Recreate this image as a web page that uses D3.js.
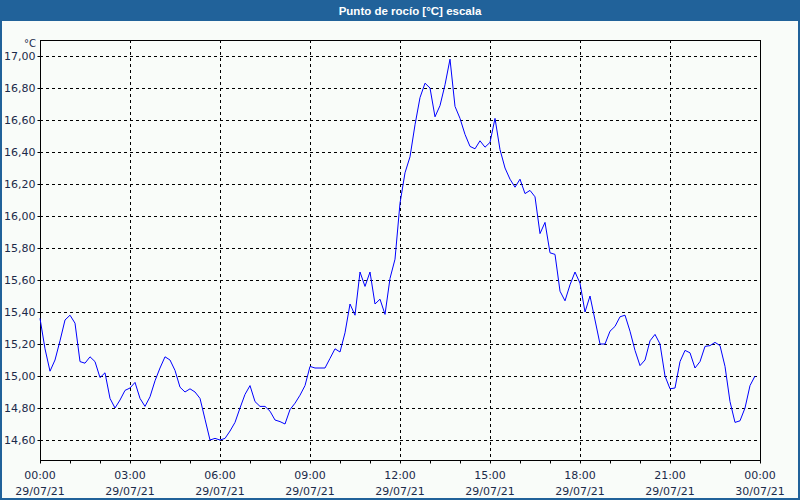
<!DOCTYPE html>
<html><head><meta charset="utf-8">
<script src="https://cdn.jsdelivr.net/npm/d3@7"></script>
<style>
html,body{margin:0;padding:0;background:#f9fcf9;}
svg{display:block;}
</style></head>
<body>
<svg id="chart" width="800" height="500"></svg>
<script>
const chartTitle = "Punto de rocío [°C] escala";
const unitLabel = "°C";
const startTime = "2021-07-29T00:00:00";
const endTime = "2021-07-30T00:00:00";
const stepMinutes = 10;
const dewPoint = [
 15.36,15.17,15.03,15.10,15.22,15.35,15.38,15.33,15.09,15.08,
 15.12,15.09,14.99,15.02,14.86,14.80,14.85,14.91,14.925,14.96,
 14.86,14.81,14.87,14.97,15.05,15.12,15.10,15.035,14.93,14.90,
 14.92,14.90,14.86,14.73,14.60,14.61,14.60,14.61,14.656,14.71,
 14.80,14.885,14.94,14.84,14.81,14.81,14.78,14.725,14.715,14.70,
 14.79,14.83,14.88,14.94,15.06,15.05,15.05,15.05,15.11,15.17,
 15.15,15.27,15.45,15.38,15.65,15.56,15.65,15.45,15.48,15.385,
 15.61,15.73,16.08,16.27,16.37,16.57,16.74,16.83,16.80,16.62,
 16.69,16.82,16.98,16.685,16.61,16.51,16.435,16.42,16.47,16.43,
 16.46,16.61,16.415,16.30,16.23,16.18,16.23,16.14,16.16,16.12,
 15.89,15.96,15.77,15.76,15.53,15.47,15.57,15.65,15.58,15.40,
 15.50,15.35,15.20,15.20,15.28,15.31,15.37,15.38,15.28,15.16,
 15.065,15.10,15.22,15.26,15.20,15.00,14.92,14.925,15.09,15.16,
 15.145,15.05,15.09,15.185,15.19,15.21,15.19,15.06,14.84,14.71,
 14.72,14.80,14.94,15.00
];
const yTicks = [14.6,14.8,15.0,15.2,15.4,15.6,15.8,16.0,16.2,16.4,16.6,16.8,17.0];
const yDomain = [14.475, 17.1];
const xMajorHours = [0,3,6,9,12,15,18,21,24];

const svg = d3.select("#chart");
const W = 800, H = 500;
const m = {left:40, right:760, top:40, bottom:460};
const parse = d3.isoParse;
const t0 = parse(startTime), t1 = parse(endTime);
const x = d3.scaleTime().domain([t0,t1]).range([m.left,m.right]);
const y = d3.scaleLinear().domain(yDomain).range([m.bottom,m.top]);
const loc = d3.formatLocale({decimal:",",thousands:".",grouping:[3],currency:["","€"]});
const fmt = loc.format(".2f");
const timeFmt = d3.timeFormat("%H:%M"), dateFmt = d3.timeFormat("%d/%m/%y");
const font = "Tahoma, 'DejaVu Sans', 'Liberation Sans', sans-serif";
const textCol = "#1b2a4a";

svg.append("rect").attr("width",W).attr("height",H).attr("fill","#f9fcf9");
// title bar
svg.append("rect").attr("x",0).attr("y",0).attr("width",W).attr("height",21).attr("fill","#21629a");
svg.append("text").attr("x",410).attr("y",15).attr("text-anchor","middle")
  .attr("fill","#ffffff").attr("font-family","'Liberation Sans', Arial, sans-serif")
  .attr("font-weight","bold").attr("font-size","11.5px").text(chartTitle);
// outer frame
svg.append("rect").attr("x",1).attr("y",20).attr("width",W-2).attr("height",H-21)
  .attr("fill","none").attr("stroke","#21629a").attr("stroke-width",2);

const data = dewPoint.map((v,i)=>({t:d3.timeMinute.offset(t0,i*stepMinutes), v}));
const hours = d3.timeHour.range(t0, d3.timeHour.offset(t1,1));
const majorTimes = xMajorHours.map(h=>d3.timeHour.offset(t0,h));

// grid
const g = svg.append("g");
g.selectAll("line.hg").data(yTicks).join("line")
  .attr("x1",m.left).attr("x2",m.right)
  .attr("y1",d=>Math.round(y(d))+0.5).attr("y2",d=>Math.round(y(d))+0.5)
  .attr("stroke","#000").attr("stroke-dasharray","3,3").attr("shape-rendering","crispEdges");
g.selectAll("line.vg").data(majorTimes.slice(1,-1)).join("line")
  .attr("y1",m.top).attr("y2",m.bottom)
  .attr("x1",d=>Math.round(x(d))+0.5).attr("x2",d=>Math.round(x(d))+0.5)
  .attr("stroke","#000").attr("stroke-dasharray","3,3").attr("shape-rendering","crispEdges");

// axes
const yAxis = d3.axisLeft(y).tickValues(yTicks).tickFormat(fmt).tickSize(3).tickPadding(2);
const ya = svg.append("g").attr("transform",`translate(${m.left+0.5},0)`).call(yAxis);
ya.select(".domain").remove();
ya.selectAll("text").attr("font-family",font).attr("font-size","11px").attr("fill",textCol);
ya.selectAll("line").attr("stroke","#000");

const xAxis = d3.axisBottom(x).tickValues(hours).tickSize(3).tickFormat("");
const xa = svg.append("g").attr("transform",`translate(0,${m.bottom+0.5})`).call(xAxis);
xa.select(".domain").remove();
xa.selectAll("line").attr("stroke","#000");
const lab = svg.append("g").selectAll("text").data(majorTimes).join("text")
  .attr("x",d=>x(d)).attr("text-anchor","middle")
  .attr("font-family",font).attr("font-size","11px").attr("fill",textCol);
lab.append("tspan").attr("x",d=>x(d)).attr("y",479).text(d=>timeFmt(d));
lab.append("tspan").attr("x",d=>x(d)).attr("y",495).text(d=>dateFmt(d));

svg.append("text").attr("x",36).attr("y",47).attr("text-anchor","end")
  .attr("font-family",font).attr("font-size","10px").attr("fill",textCol).text(unitLabel);

// frame box
svg.append("rect").attr("x",m.left+0.5).attr("y",m.top+0.5)
  .attr("width",m.right-m.left).attr("height",m.bottom-m.top)
  .attr("fill","none").attr("stroke","#000").attr("shape-rendering","crispEdges");

// line
const line = d3.line().x(d=>x(d.t)).y(d=>y(d.v));
svg.append("path").datum(data).attr("d",line).attr("fill","none")
  .attr("stroke","#0000ff").attr("stroke-width",1);
</script>
</body></html>
